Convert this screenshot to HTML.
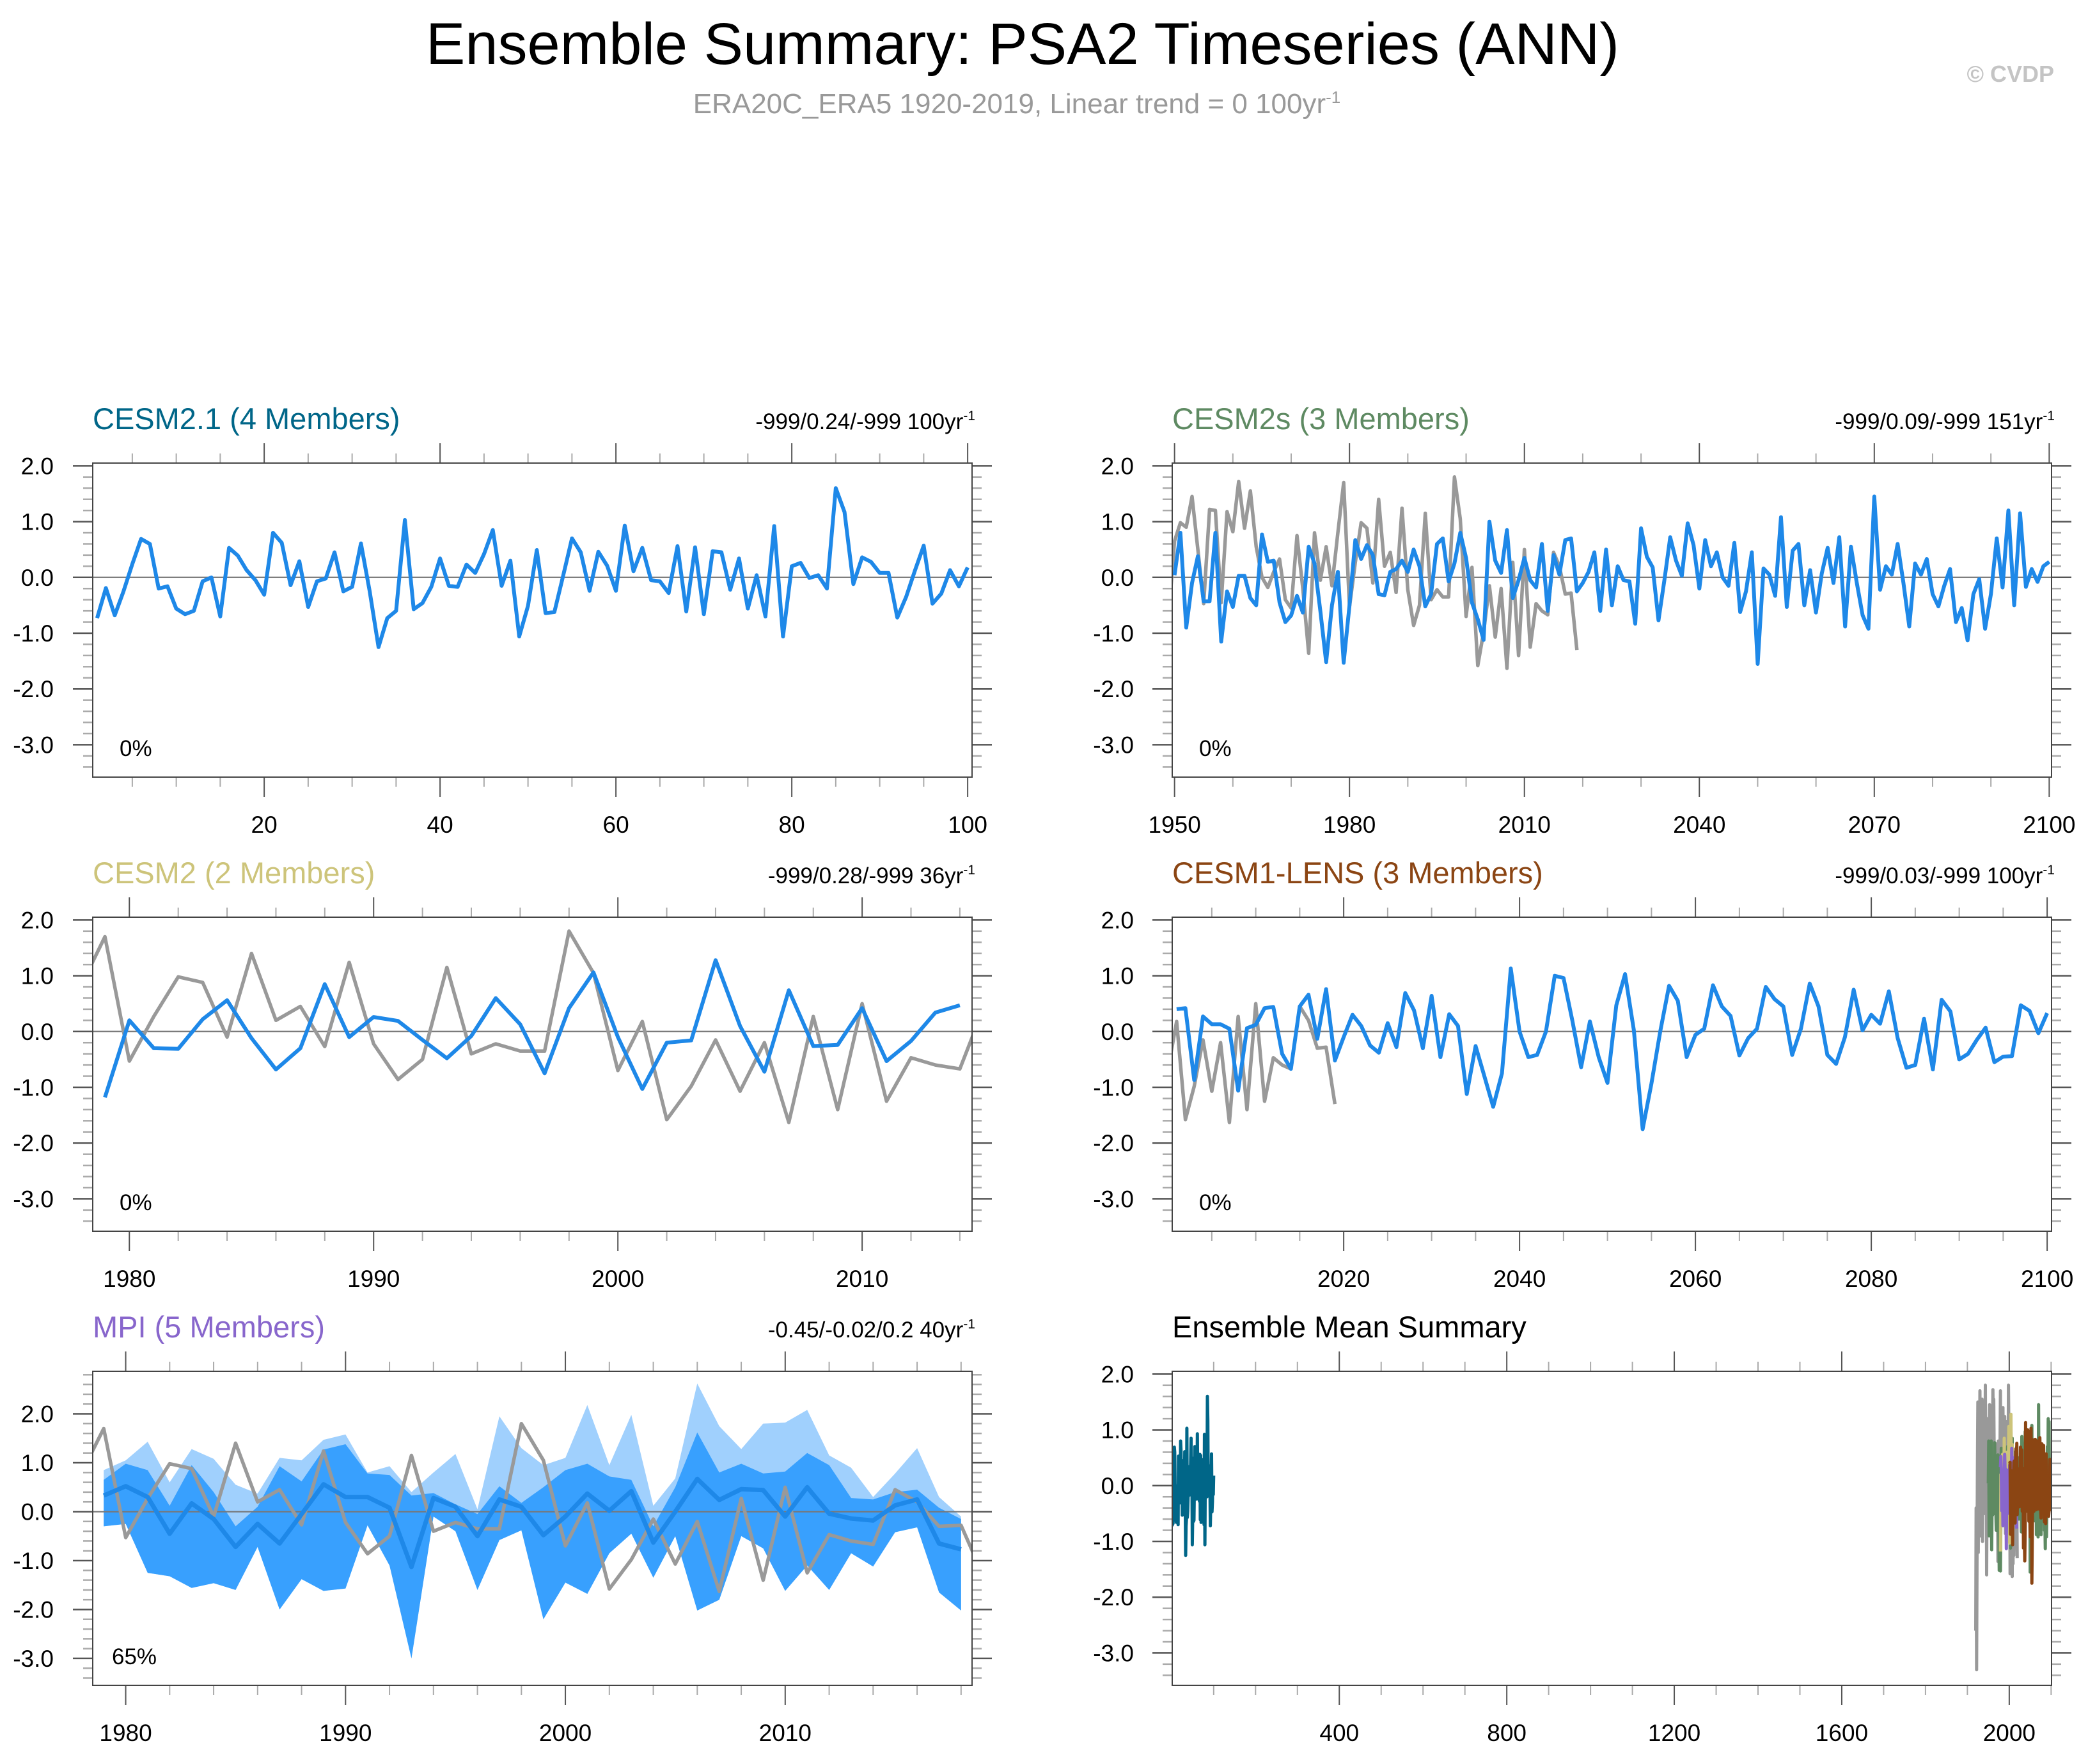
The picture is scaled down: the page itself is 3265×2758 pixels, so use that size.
<!DOCTYPE html>
<html><head><meta charset="utf-8"><style>
html,body{margin:0;padding:0;background:#fff}
svg{display:block}
text{font-family:"Liberation Sans",Arial,sans-serif}
</style></head><body>
<svg id="chart" width="3265" height="2758" viewBox="0 0 3265 2758" xmlns="http://www.w3.org/2000/svg">
<text x="1599" y="100" font-size="92" text-anchor="middle" fill="#000">Ensemble Summary: PSA2 Timeseries (ANN)</text>
<text x="1590" y="177" font-size="44" text-anchor="middle" fill="#999">ERA20C_ERA5 1920-2019, Linear trend = 0 100yr<tspan dy="-16" font-size="26">-1</tspan></text>
<text x="3212" y="128" font-size="36" font-weight="bold" text-anchor="end" fill="#c4c4c4">© CVDP</text>
<g id="panels"></g>
</svg>
<script>
// ---- data ----
const cesm21Years = Array.from({length:100},(_, i)=>i+1);
const cesm21Mean = [-0.73,-0.19,-0.68,-0.25,0.24,0.69,0.6,-0.2,-0.16,-0.56,-0.66,-0.6,-0.07,0.0,-0.7,0.53,0.39,0.13,-0.05,-0.31,
0.8,0.62,-0.14,0.29,-0.53,-0.07,-0.02,0.45,-0.25,-0.17,0.61,-0.25,-1.25,-0.73,-0.6,1.03,-0.57,-0.46,-0.17,0.34,
-0.15,-0.17,0.23,0.08,0.42,0.85,-0.15,0.3,-1.06,-0.51,0.49,-0.64,-0.62,0.03,0.7,0.45,-0.24,0.46,0.21,-0.24,
0.93,0.11,0.53,-0.05,-0.07,-0.28,0.56,-0.61,0.54,-0.66,0.47,0.45,-0.22,0.34,-0.56,0.04,-0.7,0.92,-1.06,0.2,
0.26,-0.01,0.04,-0.2,1.6,1.17,-0.12,0.36,0.28,0.08,0.08,-0.72,-0.35,0.12,0.57,-0.47,-0.29,0.13,-0.16,0.18];

const obsStart = 1920;
const obsValues = [-2.6,-0.4,-3.3,-1.2,0.3,1.5,-1.2,1.45,-0.8,0.5,1.7,-0.9,0.2,1.1,-0.6,1.55,-1.0,0.4,-0.3,1.3,
0.6,-0.5,0.9,1.8,-0.2,0.7,-1.6,0.3,1.2,-0.7,
0.65,0.98,0.9,1.45,0.5,-0.47,1.22,1.2,-0.45,1.18,0.82,1.72,0.88,1.55,0.55,0.0,-0.18,0.1,0.33,-0.4,
-0.55,0.75,-0.2,-1.36,0.8,-0.05,0.55,-0.15,0.8,1.7,-0.53,0.27,0.98,0.88,-0.1,1.4,0.2,0.45,-0.27,1.24,
-0.22,-0.86,-0.5,1.15,-0.4,-0.22,-0.35,-0.35,1.8,1.05,-0.7,0.18,-1.58,-0.98,-0.15,-1.07,-0.2,-1.63,0.27,-1.4,
0.5,-1.25,-0.47,-0.6,-0.67,0.45,0.2,-0.3,-0.28,-1.3];

const cesm2sStart = 1950;
const cesm2sMean = [0.04,0.8,-0.9,-0.1,0.38,-0.43,-0.43,0.8,-1.15,-0.25,-0.53,0.03,0.03,-0.37,-0.5,0.77,0.28,0.3,-0.45,-0.8,
-0.68,-0.33,-0.63,0.55,0.25,-0.6,-1.52,-0.5,0.1,-1.53,-0.5,0.67,0.33,0.58,0.4,-0.3,-0.32,0.1,0.15,0.3,
0.1,0.5,0.2,-0.52,-0.3,0.6,0.7,-0.07,0.25,0.8,0.35,-0.45,-0.75,-1.12,1.0,0.3,0.08,0.85,-0.37,-0.05,
0.35,-0.05,-0.18,0.6,-0.6,0.4,0.05,0.67,0.7,-0.25,-0.1,0.1,0.45,-0.6,0.5,-0.5,0.2,-0.05,-0.07,-0.83,
0.88,0.37,0.18,-0.77,-0.05,0.72,0.3,0.03,0.97,0.58,-0.2,0.67,0.2,0.45,0.0,-0.15,0.62,-0.62,-0.25,0.45,
-1.55,0.16,0.05,-0.33,1.08,-0.53,0.48,0.6,-0.5,0.13,-0.63,0.07,0.53,-0.1,0.72,-0.88,0.55,-0.1,-0.68,-0.92,
1.45,-0.22,0.2,0.05,0.6,-0.1,-0.88,0.25,0.05,0.33,-0.3,-0.52,-0.15,0.15,-0.8,-0.55,-1.13,-0.3,-0.03,-0.92,
-0.3,0.7,-0.18,1.2,-0.5,1.15,-0.17,0.15,-0.08,0.2,0.28];

const cesm2Start = 1979;
const cesm2Mean = [-1.18,0.2,-0.3,-0.31,0.22,0.56,-0.12,-0.68,-0.3,0.85,-0.1,0.26,0.19,-0.15,-0.48,-0.08,0.6,0.13,-0.75,0.42,
1.06,-0.1,-1.03,-0.2,-0.16,1.28,0.1,-0.72,0.74,-0.26,-0.24,0.42,-0.53,-0.17,0.34,0.47];

const lensStart = 2001;
const lensMean = [0.4,0.42,-0.87,0.27,0.13,0.13,0.05,-1.06,0.06,0.12,0.42,0.44,-0.4,-0.67,0.45,0.66,-0.13,0.76,-0.52,-0.1,
0.3,0.1,-0.25,-0.38,0.15,-0.28,0.69,0.38,-0.3,0.64,-0.46,0.31,0.1,-1.12,-0.26,-0.8,-1.35,-0.75,1.13,0.0,
-0.46,-0.42,0.0,1.0,0.96,0.2,-0.64,0.18,-0.46,-0.92,0.47,1.03,0.02,-1.75,-0.93,0.0,0.82,0.55,-0.46,-0.06,
0.05,0.83,0.45,0.28,-0.43,-0.12,0.05,0.8,0.58,0.45,-0.42,0.05,0.86,0.45,-0.42,-0.58,-0.1,0.75,0.02,0.3,
0.14,0.72,-0.12,-0.65,-0.6,0.23,-0.68,0.57,0.36,-0.5,-0.4,-0.15,0.07,-0.55,-0.45,-0.44,0.47,0.37,-0.03,0.33];

const mpiStart = 1979;
const mpiMean = [0.33,0.52,0.3,-0.45,0.17,-0.15,-0.72,-0.25,-0.65,-0.05,0.56,0.3,0.3,0.08,-1.13,0.28,0.1,-0.5,0.25,0.1,
-0.48,-0.1,0.37,0.02,0.42,-0.63,0.0,0.67,0.24,0.46,0.44,-0.1,0.5,-0.04,-0.14,-0.18,0.13,0.25,-0.65,-0.77];
const mpiMax = [0.85,1.05,1.43,0.6,1.28,1.08,0.55,0.37,1.1,1.05,1.47,1.58,0.8,0.93,0.4,0.8,1.18,0.05,1.95,1.3,
0.95,1.1,2.18,0.95,1.98,0.12,0.68,2.62,1.75,1.28,1.8,1.82,2.08,1.15,0.9,0.3,0.78,1.3,0.3,-0.1];
const mpiUpper = [0.65,0.98,0.85,0.12,0.95,0.4,-0.3,0.1,0.93,0.62,1.27,1.38,0.78,0.75,0.33,0.38,0.15,-0.05,0.52,0.18,
0.5,0.85,0.98,0.72,0.65,-0.3,0.5,1.62,0.8,0.98,0.78,0.82,1.2,0.95,0.28,0.25,0.4,0.45,0.08,-0.15];
const mpiMin = [-0.3,-0.25,-1.25,-1.32,-1.56,-1.46,-1.6,-0.72,-2.0,-1.38,-1.62,-1.57,-0.28,-1.1,-3.0,-0.1,-0.4,-1.6,-0.58,-0.38,
-2.2,-1.45,-1.68,-0.85,-0.45,-1.35,-0.5,-2.02,-1.8,-0.5,-0.75,-1.62,-1.1,-1.6,-0.85,-1.12,-0.42,-0.32,-1.65,-2.02];

const yTickLabels = [2.0,1.0,0.0,-1.0,-2.0,-3.0];

// ---- helpers ----
const NS="http://www.w3.org/2000/svg";
const root=document.getElementById('panels');
function mk(tag,attrs,parent){const e=document.createElementNS(NS,tag);for(const k in attrs)e.setAttribute(k,attrs[k]);(parent||root).appendChild(e);return e;}
function yearsFrom(start,n){return Array.from({length:n},(_, i)=>start+i);}
const BLUE="#1e88e8", GRAY="#999999";

function panel(cfg){
  const g=mk('g',{});
  
  
  const [x0,x1]=cfg.xr,[y0,y1]=cfg.yr,L=cfg.box[0],T=cfg.box[1],R=cfg.box[2],B=cfg.box[3];
  const sx=v=>L+(v-x0)/(x1-x0)*(R-L);
  const sy=v=>B-(v-y0)/(y1-y0)*(B-T);
  const cid='clip-'+cfg.name;
  const cp=mk('clipPath',{id:cid},g);
  mk('rect',{x:L,y:T,width:R-L,height:B-T},cp);
  for(let v=Math.ceil(y0*5)/5; v<=y1+1e-9; v+=0.2){
    const r=Math.round(v*5)/5, major=Math.abs(r-Math.round(r))<1e-6, len=major?31:15;
    const yy=sy(r);
    const t1=mk('line',{x1:L-len,x2:L,y1:yy,y2:yy,stroke:major?'#555':'#aaa','stroke-width':2.5},g);
    
    
    const t2=mk('line',{x1:R,x2:R+len,y1:yy,y2:yy,stroke:major?'#555':'#aaa','stroke-width':2.5},g);
    
    
  }
  yTickLabels.forEach(v=>{
    if(v<y0||v>y1) return;
    const t=mk('text',{x:cfg.ylabX,y:sy(v)+13,'font-size':37,'text-anchor':'end',fill:'#000'},g);
    
    
    t.textContent=v.toFixed(1);
  });
  for(let v=Math.ceil(x0/cfg.minor)*cfg.minor; v<=x1; v+=cfg.minor){
    const major=(v%cfg.major)===0, len=major?31:15, xx=sx(v);
    const a=mk('line',{x1:xx,x2:xx,y1:T-len,y2:T,stroke:major?'#555':'#aaa','stroke-width':2},g);
    
    
    const b=mk('line',{x1:xx,x2:xx,y1:B,y2:B+len,stroke:major?'#555':'#aaa','stroke-width':2},g);
    
    
    if(major){
      const t=mk('text',{x:xx,y:B+87,'font-size':37,'text-anchor':'middle',fill:'#000'},g);
      
      
      t.textContent=String(v);
    }
  }
  const plot=mk('g',{'clip-path':'url(#'+cid+')'},g);
  (cfg.bands||[]).forEach(bd=>{
    let d='';
    bd.xs.forEach((x,i)=>{d+=(i?'L':'M')+sx(x).toFixed(1)+','+sy(bd.hi[i]).toFixed(1);});
    for(let i=bd.xs.length-1;i>=0;i--) d+='L'+sx(bd.xs[i]).toFixed(1)+','+sy(bd.lo[i]).toFixed(1);
    const p=mk('path',{d:d+'Z',fill:bd.color,stroke:'none'},plot);
    
    
  });
  if(!cfg.noZero){
    const z=mk('line',{x1:L,x2:R,y1:sy(0),y2:sy(0),stroke:'#777','stroke-width':2.2},plot);
    
    
  }
  cfg.series.forEach(s=>{
    const pts=s.xs.map((x,i)=>sx(x).toFixed(1)+','+sy(s.ys[i]).toFixed(1)).join(' ');
    const pl=mk('polyline',{points:pts,fill:'none',stroke:s.color,'stroke-width':s.w||6,'stroke-linejoin':'round'},plot);
    
    
  });
  const fr=mk('rect',{x:L,y:T,width:R-L,height:B-T,fill:'none',stroke:'#444','stroke-width':2},g);
  
  
  const tt=mk('text',{x:L,y:T-53,'font-size':47,fill:cfg.tcolor},g);
  
  
  tt.textContent=cfg.title;
  if(cfg.stats){
    const st=mk('text',{x:R+5,y:T-53,'font-size':35,'text-anchor':'end',fill:'#000'},g);
    
    
    st.textContent=cfg.stats;
    const sp=mk('tspan',{dy:-14,'font-size':21},st);
    sp.textContent='-1';
  }
  if(cfg.pct){
    const pc=mk('text',{x:L+(cfg.pct.length>2?30:42),y:B-33,'font-size':35,fill:'#000'},g);
    
    
    pc.textContent=cfg.pct;
  }
}

const obsYears=yearsFrom(obsStart,obsValues.length);
const LB=[145,1520], RB=[1833,3208];
const R1=[724,1215], R2=[1434,1925], R3=[2144,2635];
const YR=[-3.58,2.05];

panel({name:'cesm2-1-panel',title:'CESM2.1 (4 Members)',tcolor:'#006688',stats:'-999/0.24/-999 100yr',pct:'0%',
  box:[LB[0],R1[0],LB[1],R1[1]],xr:[0.5,100.5],yr:YR,major:20,minor:5,ylabX:84,
  series:[{name:'cesm2-1-ensemble-mean',xs:cesm21Years,ys:cesm21Mean,color:BLUE}]});

panel({name:'cesm2s-panel',title:'CESM2s (3 Members)',tcolor:'#5e8a62',stats:'-999/0.09/-999 151yr',pct:'0%',
  box:[RB[0],R1[0],RB[1],R1[1]],xr:[1949.6,2100.4],yr:YR,major:30,minor:10,ylabX:1773,
  series:[{name:'observations-line',xs:obsYears,ys:obsValues,color:GRAY,w:5.5},
          {name:'cesm2s-ensemble-mean',xs:yearsFrom(cesm2sStart,cesm2sMean.length),ys:cesm2sMean,color:BLUE}]});

panel({name:'cesm2-panel',title:'CESM2 (2 Members)',tcolor:'#cdc47a',stats:'-999/0.28/-999 36yr',pct:'0%',
  box:[LB[0],R2[0],LB[1],R2[1]],xr:[1978.5,2014.5],yr:YR,major:10,minor:2,ylabX:84,
  series:[{name:'observations-line',xs:obsYears,ys:obsValues,color:GRAY,w:5.5},
          {name:'cesm2-ensemble-mean',xs:yearsFrom(cesm2Start,cesm2Mean.length),ys:cesm2Mean,color:BLUE}]});

panel({name:'cesm1-lens-panel',title:'CESM1-LENS (3 Members)',tcolor:'#8b4513',stats:'-999/0.03/-999 100yr',pct:'0%',
  box:[RB[0],R2[0],RB[1],R2[1]],xr:[2000.5,2100.5],yr:YR,major:20,minor:5,ylabX:1773,
  series:[{name:'observations-line',xs:obsYears,ys:obsValues,color:GRAY,w:5.5},
          {name:'cesm1-lens-ensemble-mean',xs:yearsFrom(lensStart,lensMean.length),ys:lensMean,color:BLUE}]});

const mpiYears=yearsFrom(mpiStart,mpiMean.length);
panel({name:'mpi-panel',title:'MPI (5 Members)',tcolor:'#8866cc',stats:'-0.45/-0.02/0.2 40yr',pct:'65%',
  box:[LB[0],R3[0],LB[1],R3[1]],xr:[1978.5,2018.5],yr:[-3.55,2.87],major:10,minor:2,ylabX:84,
  bands:[{name:'mpi-range-band',xs:mpiYears,hi:mpiMax,lo:mpiMin,color:'#a0d0fd'},
         {name:'mpi-spread-band',xs:mpiYears,hi:mpiUpper,lo:mpiMin,color:'#38a0fe'}],
  series:[{name:'observations-line',xs:obsYears,ys:obsValues,color:GRAY,w:5.5},
          {name:'mpi-ensemble-mean',xs:mpiYears,ys:mpiMean,color:BLUE,w:7}]});

panel({name:'ensemble-mean-summary-panel',title:'Ensemble Mean Summary',tcolor:'#000',noZero:true,
  box:[RB[0],R3[0],RB[1],R3[1]],xr:[1,2101],yr:YR,major:400,minor:100,ylabX:1773,
  series:[{name:'summary-observations',xs:obsYears,ys:obsValues,color:GRAY,w:5},
          {name:'summary-cesm2-1',xs:cesm21Years,ys:cesm21Mean,color:'#006688',w:5},
          {name:'summary-cesm2s',xs:yearsFrom(cesm2sStart,cesm2sMean.length),ys:cesm2sMean,color:'#5e8a62',w:5},
          {name:'summary-cesm2',xs:yearsFrom(cesm2Start,cesm2Mean.length),ys:cesm2Mean,color:'#cdc47a',w:5},
          {name:'summary-mpi',xs:mpiYears,ys:mpiMean,color:'#8866cc',w:5},
          {name:'summary-cesm1-lens',xs:yearsFrom(lensStart,lensMean.length),ys:lensMean,color:'#8b4513',w:5}]});
</script>
</body></html>
